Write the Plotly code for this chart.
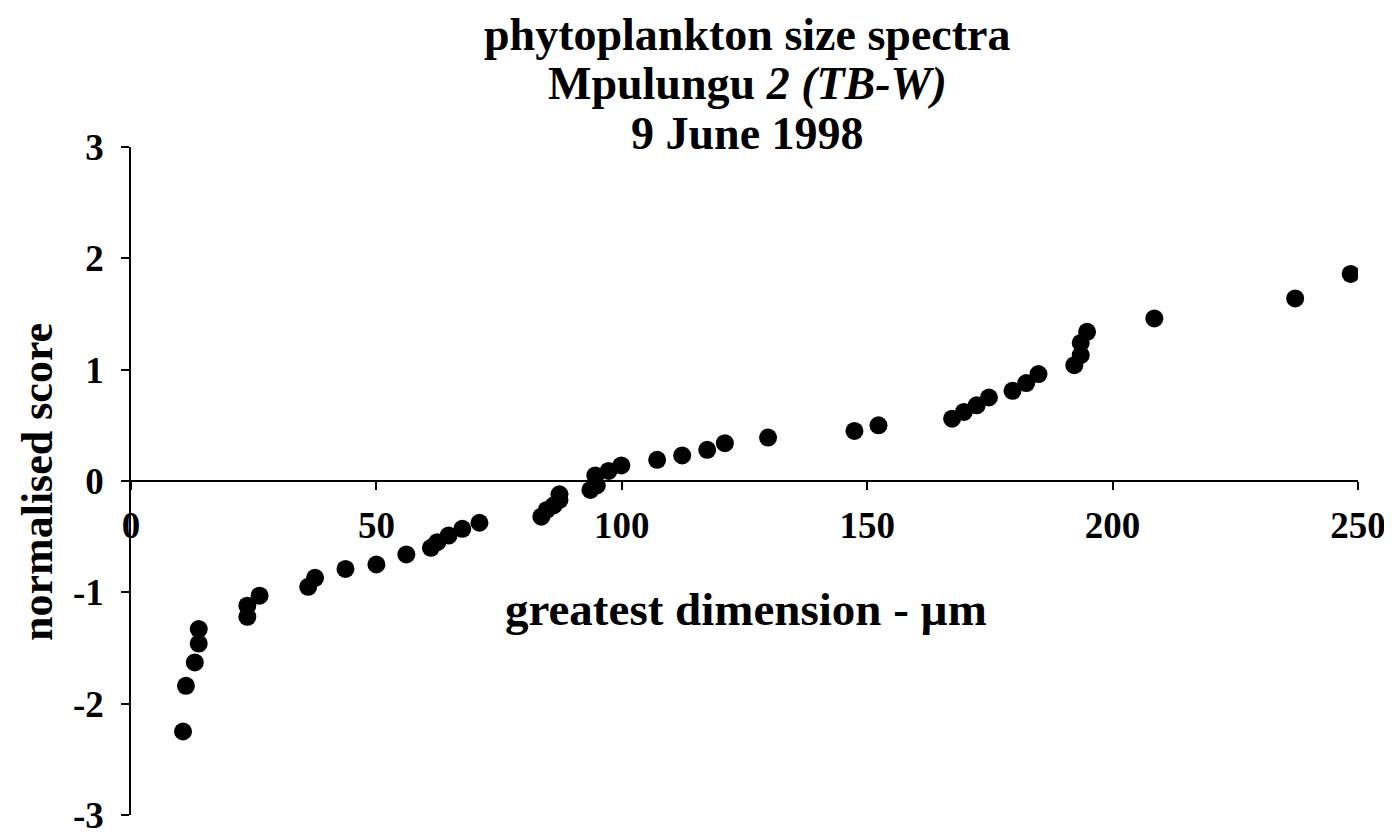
import plotly.graph_objects as go

# greatest dimension (µm) and normalised score
size_um = [10.6, 11.2, 13.0, 13.8, 13.8, 23.7, 23.7, 26.2, 36.1, 37.5,
           43.7, 50.0, 56.1, 61.1, 62.4, 64.7, 67.5, 71.0, 83.6, 84.7,
           86.1, 87.3, 87.3, 93.6, 94.9, 94.6, 97.3, 99.9, 107.2, 112.3,
           117.4, 121.0, 129.8, 147.4, 152.3, 167.3, 169.7, 172.3, 174.8, 179.6,
           182.4, 184.9, 192.2, 193.5, 193.5, 194.8, 208.5, 237.2, 248.5]
score = [-2.25, -1.84, -1.63, -1.46, -1.33, -1.22, -1.12, -1.03, -0.95, -0.87,
         -0.79, -0.75, -0.66, -0.60, -0.55, -0.49, -0.43, -0.375, -0.32, -0.26,
         -0.22, -0.17, -0.12, -0.08, -0.04, 0.05, 0.09, 0.14, 0.19, 0.23,
         0.28, 0.34, 0.39, 0.45, 0.50, 0.56, 0.62, 0.68, 0.75, 0.81,
         0.88, 0.96, 1.04, 1.13, 1.24, 1.34, 1.46, 1.64, 1.86]

x_ticks = [0, 50, 100, 150, 200, 250]
y_ticks = [-3, -2, -1, 0, 1, 2, 3]

title_lines = ["<b>phytoplankton size spectra</b>",
               "<b>Mpulungu <i>2 (TB-W)</i></b>",
               "<b>9 June 1998</b>"]
x_title = "<b>greatest dimension - µm</b>"
y_title = "<b>normalised score</b>"

FONT = "Liberation Serif, Times New Roman, serif"

fig = go.Figure()
fig.add_trace(go.Scatter(
    x=size_um, y=score, mode="markers",
    marker=dict(size=18, color="black"),
    showlegend=False, hoverinfo="x+y"))

OFF = 8  # page body margin
W, H = 1392 - OFF, 834
L = 131 - OFF
T = 147 - OFF
R = W - (1358 - OFF)
B = H - (815 - OFF)
plot_h = H - T - B
plot_w = W - L - R

fig.update_layout(
    width=W, height=H,
    margin=dict(l=L, r=R, t=T, b=B, autoexpand=False),
    plot_bgcolor="white", paper_bgcolor="white",
    font=dict(family=FONT, color="black"),
    xaxis=dict(range=[0, 250], tickvals=x_ticks, ticktext=[str(v) for v in x_ticks],
               showgrid=False, zeroline=False, showline=True, linecolor="black",
               linewidth=1.5, ticks="outside", ticklen=8, tickwidth=1.5, tickcolor="black",
               anchor="free", position=0.5, ticklabelstandoff=4, ticklabeloverflow="allow",
               tickfont=dict(family=FONT, size=37, color="black", weight="bold")),
    yaxis=dict(range=[-3, 3], tickvals=y_ticks, ticktext=[str(v) for v in y_ticks],
               showgrid=False, zeroline=False, showline=True, linecolor="black",
               linewidth=1.5, ticks="outside", ticklen=8, tickwidth=1.5, tickcolor="black",
               ticklabelstandoff=10, ticklabeloverflow="allow",
               tickfont=dict(family=FONT, size=37, color="black", weight="bold")),
)

def py2paper(py):
    # py: page pixel y
    return (H - B - (py - OFF)) / plot_h

def px2paper(px):
    return (px - OFF - L) / plot_w

title_centers = [34, 84, 133]
for txt, cy in zip(title_lines, title_centers):
    fig.add_annotation(text=txt, xref="paper", yref="paper", x=px2paper(747), y=py2paper(cy),
                       xanchor="center", yanchor="middle", showarrow=False,
                       font=dict(family=FONT, size=46, color="black"))

fig.add_annotation(text=x_title, xref="paper", yref="paper", x=px2paper(746), y=py2paper(609),
                   xanchor="center", yanchor="middle", showarrow=False,
                   font=dict(family=FONT, size=47, color="black"))
fig.add_annotation(text=y_title, xref="paper", yref="paper",
                   x=px2paper(37), y=py2paper(482),
                   xanchor="center", yanchor="middle", showarrow=False, textangle=-90,
                   font=dict(family=FONT, size=44, color="black"))

fig.write_html("out.html")
